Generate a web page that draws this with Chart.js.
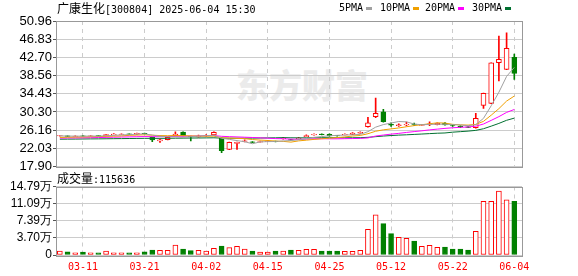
<!DOCTYPE html>
<html>
<head>
<meta charset="utf-8">
<script src="https://cdn.jsdelivr.net/npm/chart.js@4.4.1/dist/chart.umd.min.js"></script>
<style>
html,body{margin:0;padding:0;background:#fff;}
#wrap{position:relative;width:578px;height:276px;overflow:hidden;}
canvas{position:absolute;left:0;top:0;}
.t{position:absolute;white-space:nowrap;font-family:"DejaVu Sans Mono",monospace;font-size:10px;color:#000;line-height:14px;}
.cjk{font-family:"Noto Sans CJK SC";font-size:12px;}
.sw{display:inline-block;width:6px;height:3px;margin-left:3px;vertical-align:middle;}
.wm{position:absolute;left:236px;top:60px;font-family:"Noto Sans CJK SC";font-weight:900;font-size:33px;color:#ebebeb;white-space:nowrap;}
</style>
</head>
<body>
<div id="wrap">
  <div class="wm">东方财富</div>
  <canvas id="kline" width="578" height="276"></canvas>
  <canvas id="vol" width="578" height="276"></canvas>
  <div class="t" style="left:57px;top:1px"><span class="cjk">广康生化</span>[300804] 2025-06-04 15:30</div>
  <div class="t" style="left:339px;top:1px">5PMA<span class="sw" style="background:#a0a0a0"></span></div>
  <div class="t" style="left:380px;top:1px">10PMA<span class="sw" style="background:#f0a000"></span></div>
  <div class="t" style="left:425px;top:1px">20PMA<span class="sw" style="background:#ff00ff"></span></div>
  <div class="t" style="left:472px;top:1px">30PMA<span class="sw" style="background:#007030"></span></div>
  <div class="t" style="left:57px;top:171px"><span class="cjk">成交量</span>:115636</div>
</div>
<script>
// fechas (dias de negociacion)
const dates = ['03-06','03-07','03-10','03-11','03-12','03-13','03-14','03-17','03-18','03-19',
  '03-20','03-21','03-24','03-25','03-26','03-27','03-28','03-31','04-01','04-02',
  '04-03','04-07','04-08','04-09','04-10','04-11','04-14','04-15','04-16','04-17',
  '04-18','04-21','04-22','04-23','04-24','04-25','04-28','04-29','04-30','05-06',
  '05-07','05-08','05-09','05-12','05-13','05-14','05-15','05-16','05-19','05-20',
  '05-21','05-22','05-23','05-26','05-27','05-28','05-29','05-30','06-03','06-04'];

const opens  = [24.85,24.85,24.75,24.85,24.78,24.90,24.90,25.15,25.20,25.30,
  25.25,25.45,24.50,23.70,23.98,24.89,25.70,24.75,24.60,24.85,
  25.05,24.37,21.80,23.17,23.60,23.50,23.45,23.60,23.65,24.20,
  24.00,24.20,24.70,25.10,25.25,25.20,24.95,25.10,25.20,25.50,
  26.93,29.20,30.30,27.50,27.20,27.35,27.55,27.25,27.45,27.40,
  27.70,27.20,27.00,26.90,26.71,31.80,32.26,41.48,39.98,42.71];
const highs  = [24.98,24.88,24.85,24.90,24.90,24.95,25.20,25.40,25.30,25.35,
  25.50,25.50,24.60,24.10,24.60,25.80,25.75,24.80,25.05,25.15,
  25.75,24.40,23.45,23.45,23.95,23.55,23.70,23.80,23.70,24.50,
  24.05,24.50,25.10,25.30,25.30,25.30,25.00,25.30,25.60,25.75,
  29.07,33.42,30.90,27.80,27.60,28.00,27.75,27.45,28.05,27.80,
  27.90,27.30,27.20,26.95,29.98,34.60,41.44,47.55,48.30,43.46];
const lows   = [24.80,24.70,24.70,24.72,24.75,24.80,24.85,25.10,25.15,25.15,
  25.20,25.30,23.55,23.39,23.95,24.85,24.85,23.70,24.55,24.80,
  25.00,21.03,21.70,21.80,23.50,23.30,23.40,23.55,23.50,24.10,
  23.85,24.10,24.65,25.00,25.10,24.80,24.80,25.05,25.15,25.45,
  26.85,29.00,27.95,27.00,27.00,27.10,27.15,27.20,27.20,27.35,
  27.30,27.00,26.75,26.70,26.60,31.12,32.20,37.32,39.90,37.70];
const closes = [24.90,24.75,24.80,24.78,24.85,24.85,25.15,25.25,25.25,25.22,
  25.45,25.35,23.92,23.98,24.53,25.28,24.90,24.60,24.80,25.00,
  25.66,21.48,23.39,23.39,23.72,23.39,23.55,23.70,23.55,24.30,
  23.90,24.35,24.90,25.20,25.15,24.82,24.85,25.20,25.50,25.65,
  27.85,29.98,28.10,27.30,27.35,27.50,27.45,27.35,27.60,27.70,
  27.35,27.10,26.90,26.80,28.85,34.53,41.44,42.26,44.76,39.07];
const volumes = [8700,7000,4500,6500,4500,4500,8700,4500,4500,4500,
  4500,7000,10800,10000,10000,21600,13000,9400,10000,8700,
  14500,19500,15800,18800,13000,8700,6500,6500,8700,8700,
  10800,10000,12300,12300,8700,8700,8700,8000,8000,10000,
  55600,86600,67800,46000,38300,36000,30300,18800,21000,16600,
  17300,13000,13000,10800,51300,116000,116000,138000,119000,115636];

// medias moviles
const ma5  = [24.85,24.82,24.80,24.80,24.82,24.81,24.89,24.98,25.07,25.14,
  25.26,25.30,25.04,24.78,24.65,24.61,24.52,24.66,24.82,24.92,
  24.99,24.31,24.07,23.78,23.53,23.07,23.49,23.55,23.58,23.70,
  23.80,23.96,24.20,24.53,24.70,24.88,24.98,25.04,25.10,25.20,
  25.81,26.84,27.42,27.78,28.12,28.05,27.54,27.39,27.45,27.52,
  27.49,27.42,27.33,27.17,27.40,28.84,31.70,34.78,38.37,40.41];
const ma10 = [24.50,24.55,24.58,24.62,24.66,24.70,24.74,24.80,24.85,24.98,
  25.04,25.10,25.01,24.93,24.90,24.94,24.91,24.85,24.80,24.78,
  24.80,24.42,24.36,24.30,24.22,24.03,23.90,23.81,23.68,23.61,
  23.44,23.72,23.88,24.06,24.20,24.34,24.47,24.62,24.82,24.95,
  25.35,25.91,26.23,26.44,26.66,26.93,27.19,27.40,27.61,27.82,
  27.77,27.48,27.36,27.31,27.46,28.16,29.56,31.05,32.77,33.91];
const ma20 = [24.35,24.38,24.40,24.42,24.45,24.48,24.52,24.56,24.60,24.63,
  24.67,24.70,24.68,24.68,24.70,24.75,24.78,24.80,24.83,24.88,
  24.92,24.76,24.68,24.62,24.56,24.49,24.41,24.33,24.24,24.20,
  24.12,24.07,24.12,24.18,24.21,24.19,24.19,24.22,24.25,24.28,
  24.39,24.82,25.05,25.25,25.43,25.64,25.83,26.01,26.22,26.39,
  26.56,26.70,26.80,26.88,27.06,27.55,28.38,29.23,30.19,30.86];
const ma30 = [24.10,24.12,24.13,24.15,24.17,24.18,24.20,24.22,24.24,24.26,
  24.28,24.30,24.30,24.30,24.31,24.33,24.35,24.37,24.38,24.40,
  24.42,24.35,24.33,24.33,24.34,24.35,24.37,24.40,24.42,24.46,
  24.42,24.41,24.41,24.43,24.44,24.44,24.43,24.43,24.43,24.45,
  24.53,24.68,24.82,24.93,25.03,25.10,25.19,25.28,25.37,25.46,
  25.52,25.70,25.82,25.94,26.11,26.48,27.07,27.69,28.40,28.89];

const priceTicks = [17.90,22.03,26.16,30.30,34.43,38.56,42.70,46.83,50.96];
const volTicks = [0,36975,73950,110925,147900];
const volTickLabels = ['0','3.70万','7.39万','11.09万','14.79万'];
const labelIdx = [3,11,19,27,35,43,51,59];

const RED = '#ff0000', GREEN = '#008000';
const xs = dates.map((d,i) => i);
const isUp = xs.map(i => closes[i] >= opens[i]);
const colors = isUp.map(u => u ? RED : GREEN);
const fills = isUp.map(u => u ? '#ffffff' : GREEN);

// marco gris alrededor del area del grafico
const frame = {
  id: 'frame',
  beforeDatasetsDraw(chart) {
    const a = chart.chartArea, ctx = chart.ctx;
    ctx.save();
    ctx.strokeStyle = '#999';
    ctx.lineWidth = 1;
    ctx.strokeRect(Math.round(a.left) + 0.5, Math.round(a.top) + 0.5,
      Math.round(a.right - a.left), Math.round(a.bottom - a.top));
    ctx.restore();
  }
};

function xAxis(showLabels) {
  return {
    type: 'linear', min: -0.5, max: 60, offset: false,
    afterBuildTicks: s => { s.ticks = labelIdx.map(v => ({value: v})); },
    ticks: {
      display: showLabels, autoSkip: false,
      callback: v => dates[v],
      color: RED,
      font: {family: 'DejaVu Sans Mono', size: 10},
      padding: 6,
      maxRotation: 0
    },
    grid: {color: '#cccccc', drawTicks: false, offset: false},
    border: {display: false, dash: [4, 4]},
    afterFit: s => { s.height = showLabels ? 21 : 0; }
  };
}

function yAxis(min, max, tickVals, fmt, size) {
  return {
    min: min, max: max,
    afterBuildTicks: s => { s.ticks = tickVals.map(v => ({value: v})); },
    ticks: {
      callback: fmt, color: '#000', padding: 1, autoSkip: false,
      font: {family: 'Liberation Sans', size: size}
    },
    grid: {color: '#cccccc', tickLength: 3, tickColor: '#555'},
    border: {display: false},
    afterFit: s => { s.width = 56; }
  };
}

const lineSet = (data, color) => ({
  type: 'line',
  data: xs.map(i => ({x: i, y: data[i]})),
  borderColor: color, borderWidth: 1,
  pointRadius: 0, tension: 0, order: 0
});

new Chart(document.getElementById('kline'), {
  type: 'bar',
  data: {
    datasets: [
      {
        data: xs.map(i => ({x: i, y: [lows[i], highs[i]]})),
        backgroundColor: colors, barThickness: 1, grouped: false, order: 2
      },
      {
        data: xs.map(i => ({x: i, y: [opens[i], closes[i]]})),
        backgroundColor: fills, borderColor: colors, borderWidth: 1,
        borderSkipped: false, barThickness: 5, grouped: false, order: 1
      },
      lineSet(ma5, '#a0a0a0'),
      lineSet(ma10, '#f0a000'),
      lineSet(ma20, '#ff00ff'),
      lineSet(ma30, '#007030')
    ]
  },
  options: {
    responsive: false, animation: false, devicePixelRatio: 1,
    layout: {padding: {top: 21, right: 56, bottom: 109.5, left: 0}},
    plugins: {legend: {display: false}, tooltip: {enabled: false}},
    scales: {
      x: xAxis(false),
      y: yAxis(17.90, 50.96, priceTicks, v => v.toFixed(2), 13)
    }
  },
  plugins: [frame]
});

new Chart(document.getElementById('vol'), {
  type: 'bar',
  data: {
    datasets: [{
      data: xs.map(i => ({x: i, y: volumes[i]})),
      backgroundColor: fills, borderColor: colors, borderWidth: 1,
      borderSkipped: false, barThickness: 5
    }]
  },
  options: {
    responsive: false, animation: false, devicePixelRatio: 1,
    layout: {padding: {top: 186.5, right: 56, bottom: 0, left: 0}},
    plugins: {legend: {display: false}, tooltip: {enabled: false}},
    scales: {
      x: xAxis(true),
      y: yAxis(0, 147900, volTicks, (v, k) => volTickLabels[k], 12)
    }
  },
  plugins: [frame]
});
</script>
</body>
</html>
